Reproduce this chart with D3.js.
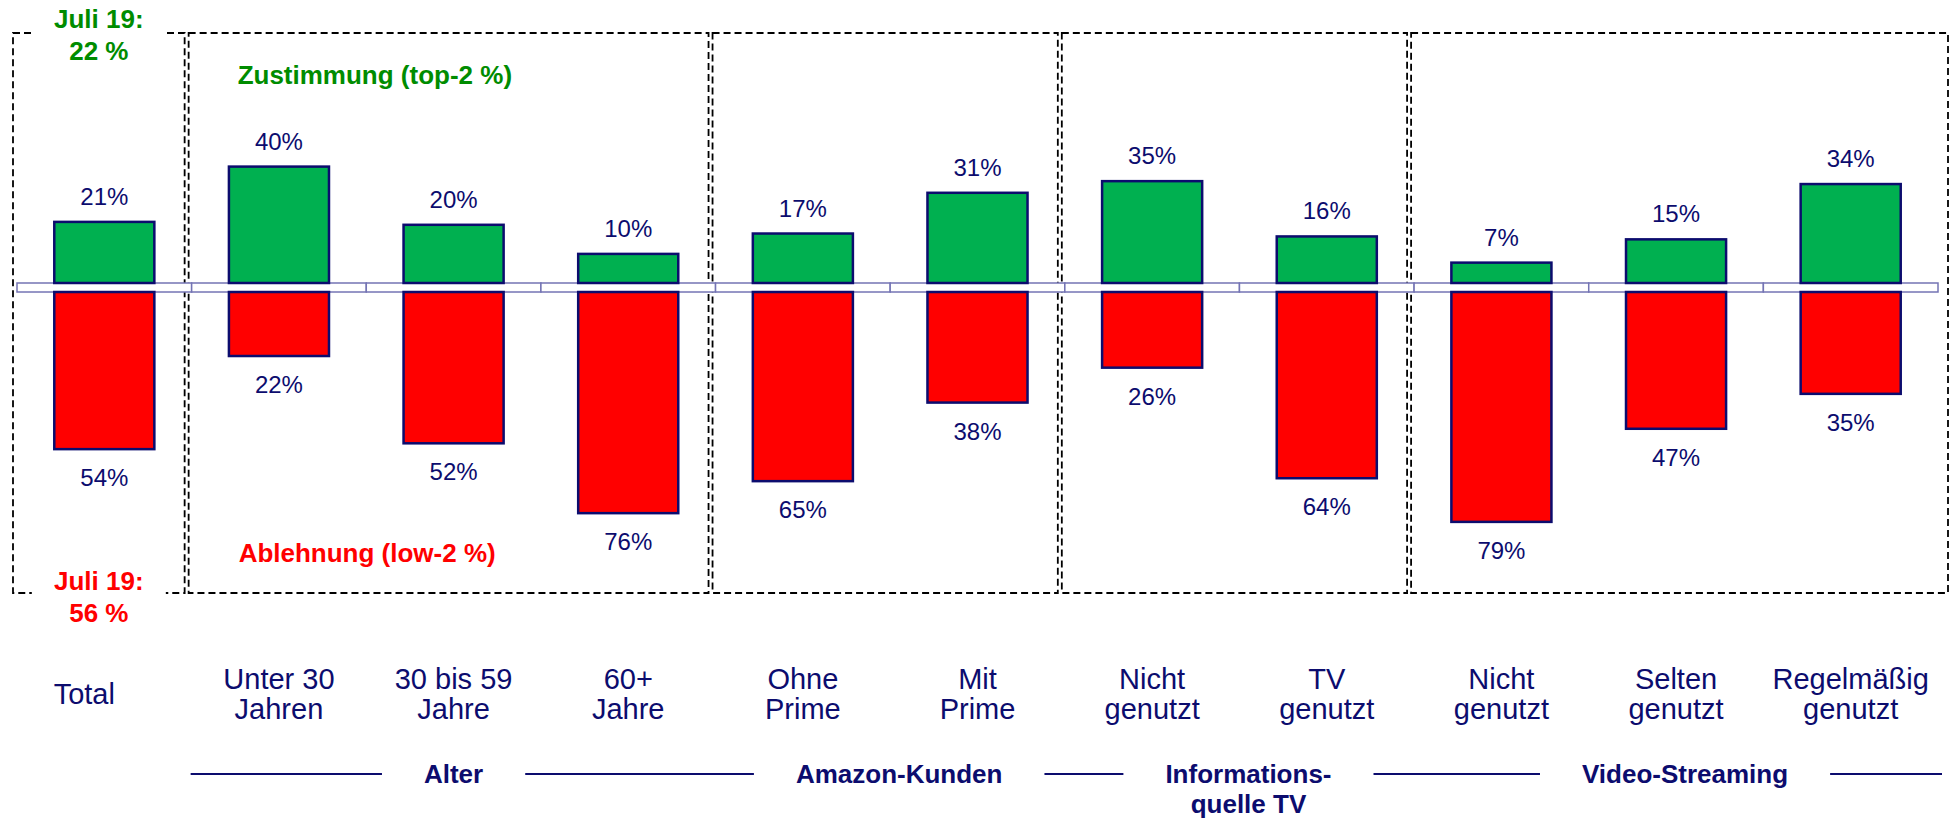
<!DOCTYPE html>
<html>
<head>
<meta charset="utf-8">
<script src="https://cdn.jsdelivr.net/npm/d3@7"></script>
<style>
  html, body { margin: 0; padding: 0; background: #fff; }
  svg { display: block; font-family: "Liberation Sans", Arial, sans-serif; }
</style>
</head>
<body>
<svg id="chart"></svg>
<script>
// Data
const categories = [
  ['Total'], ['Unter 30', 'Jahren'], ['30 bis 59', 'Jahre'], ['60+', 'Jahre'],
  ['Ohne', 'Prime'], ['Mit', 'Prime'], ['Nicht', 'genutzt'], ['TV', 'genutzt'],
  ['Nicht', 'genutzt'], ['Selten', 'genutzt'], ['Regelmäßig', 'genutzt']
]
const zustimmung = [21, 40, 20, 10, 17, 31, 35, 16, 7, 15, 34]
const ablehnung = [54, 22, 52, 76, 65, 38, 26, 64, 79, 47, 35]
const groupOf = [0, 1, 1, 1, 2, 2, 3, 3, 4, 4, 4]
const groupLabels = [[], ['Alter'], ['Amazon-Kunden'], ['Informations-', 'quelle TV'], ['Video-Streaming']]
const juli19 = { top: ['Juli 19:', '22 %'], low: ['Juli 19:', '56 %'] }

const width = 1953
const height = 820
const navy = '#0c0c6e'
const green = '#00b050'
const red = '#ff0000'

const svg = d3.select('#chart')
  .attr('width', width)
  .attr('height', height)

const x = d3.scaleBand()
  .domain(d3.range(categories.length))
  .range([17, 1938])
const barW = x.bandwidth() * 0.573
const cx = i => x(i) + x.bandwidth() / 2

const zeroTop = 283
const zeroBot = 292
const h = d3.scaleLinear().domain([0, 100]).range([0, 291])

const boxTop = 33
const boxBot = 593

// dashed group boxes
const groups = d3.range(groupLabels.length).map(g => {
  const idx = groupOf.map((d, i) => d === g ? i : -1).filter(i => i >= 0)
  return { g, first: idx[0], last: idx[idx.length - 1] }
})

svg.append('g')
  .selectAll('rect')
  .data(groups)
  .enter()
  .append('rect')
    .attr('x', d => x(d.first) - (d.g === 0 ? 4 : 3))
    .attr('y', boxTop)
    .attr('width', d => {
      const x0 = x(d.first) - (d.g === 0 ? 4 : 3)
      const x1 = d.g === groups.length - 1 ? width - 5 : x(d.last) + x.bandwidth() - 7
      return x1 - x0
    })
    .attr('height', boxBot - boxTop)
    .attr('fill', 'none')
    .attr('stroke', '#000')
    .attr('stroke-width', 1.8)
    .attr('stroke-dasharray', '7,4')

// zero band
svg.append('g')
  .selectAll('rect')
  .data(categories)
  .enter()
  .append('rect')
    .attr('x', (d, i) => x(i))
    .attr('y', zeroTop)
    .attr('width', x.bandwidth())
    .attr('height', zeroBot - zeroTop)
    .attr('fill', '#fff')
    .attr('stroke', '#7474b4')
    .attr('stroke-width', 1.5)

// bars
svg.append('g')
  .selectAll('rect')
  .data(zustimmung)
  .enter()
  .append('rect')
    .attr('x', (d, i) => cx(i) - barW / 2)
    .attr('y', d => zeroTop - h(d))
    .attr('width', barW)
    .attr('height', d => h(d))
    .attr('fill', green)
    .attr('stroke', navy)
    .attr('stroke-width', 2.5)

svg.append('g')
  .selectAll('rect')
  .data(ablehnung)
  .enter()
  .append('rect')
    .attr('x', (d, i) => cx(i) - barW / 2)
    .attr('y', zeroBot)
    .attr('width', barW)
    .attr('height', d => h(d))
    .attr('fill', red)
    .attr('stroke', navy)
    .attr('stroke-width', 2.5)

// value labels
svg.append('g')
  .selectAll('text')
  .data(zustimmung)
  .enter()
  .append('text')
    .attr('x', (d, i) => cx(i))
    .attr('y', d => zeroTop - h(d) - 17)
    .attr('text-anchor', 'middle')
    .style('font-size', '24px')
    .style('fill', navy)
    .text(d => d + '%')

svg.append('g')
  .selectAll('text')
  .data(ablehnung)
  .enter()
  .append('text')
    .attr('x', (d, i) => cx(i))
    .attr('y', d => zeroBot + h(d) + 37)
    .attr('text-anchor', 'middle')
    .style('font-size', '24px')
    .style('fill', navy)
    .text(d => d + '%')

// category labels
const catText = svg.append('g')
  .selectAll('text')
  .data(categories)
  .enter()
  .append('text')
    .attr('text-anchor', 'middle')
    .style('font-size', '29px')
    .style('fill', navy)

catText.selectAll('tspan')
  .data((d, i) => d.map((line, k) => ({ line, k, n: d.length, i })))
  .enter()
  .append('tspan')
    .attr('x', d => d.n === 1 ? cx(d.i) - 20 : cx(d.i))   // "Total" sits a bit left in the original
    .attr('y', d => d.n === 1 ? 704 : 689 + d.k * 30)
    .text(d => d.line)

// series captions inside the Alter box
svg.append('text')
  .attr('x', x(1) + 46)
  .attr('y', 84)
  .style('font-size', '26px')
  .style('font-weight', 'bold')
  .style('fill', '#008c00')
  .text('Zustimmung (top-2 %)')

svg.append('text')
  .attr('x', x(1) + 47)
  .attr('y', 562)
  .style('font-size', '26px')
  .style('font-weight', 'bold')
  .style('fill', red)
  .text('Ablehnung (low-2 %)')

// Juli 19 comparison notes, over the box border
const noteX = (x(0) - 4 + x(0) + x.bandwidth() - 7) / 2
const notes = [
  { lines: juli19.top, y: 28, color: '#008c00', bgY: 0 },
  { lines: juli19.low, y: 590, color: red, bgY: 566 }
]
notes.forEach(n => {
  svg.append('rect')
    .attr('x', noteX - 67)
    .attr('y', n.bgY)
    .attr('width', 134)
    .attr('height', 62)
    .attr('fill', '#fff')
  svg.append('text')
    .attr('text-anchor', 'middle')
    .style('font-size', '26px')
    .style('font-weight', 'bold')
    .style('fill', n.color)
    .selectAll('tspan')
    .data(n.lines)
    .enter()
    .append('tspan')
      .attr('x', noteX)
      .attr('y', (d, k) => n.y + k * 32)
      .text(d => d)
})

// group labels with the rule line under the categories
const lineY = 774
const gLabels = svg.append('g')
const gaps = []
groups.filter(d => groupLabels[d.g].length).forEach(d => {
  const mid = (x(d.first) + x(d.last) + x.bandwidth()) / 2 + (d.g > 1 ? 9 : 0)
  const t = gLabels.append('text')
    .attr('text-anchor', 'middle')
    .style('font-size', '26px')
    .style('font-weight', 'bold')
    .style('fill', navy)
  t.selectAll('tspan')
    .data(groupLabels[d.g])
    .enter()
    .append('tspan')
      .attr('x', mid)
      .attr('y', (s, k) => 783 + k * 30)
      .text(s => s)
  const w = t.node().getBBox().width
  gaps.push([mid - w / 2 - 42, mid + w / 2 + 42])
})

const lineStart = x(1) - 1
const lineEnd = x.range()[1] + 4
const segs = []
let cur = lineStart
gaps.forEach(([a, b]) => {
  if (a > cur) segs.push([cur, a])
  cur = b
})
if (lineEnd > cur) segs.push([cur, lineEnd])

svg.append('g')
  .selectAll('line')
  .data(segs)
  .enter()
  .append('line')
    .attr('x1', d => d[0])
    .attr('x2', d => d[1])
    .attr('y1', lineY)
    .attr('y2', lineY)
    .attr('stroke', navy)
    .attr('stroke-width', 2)
</script>
</body>
</html>
